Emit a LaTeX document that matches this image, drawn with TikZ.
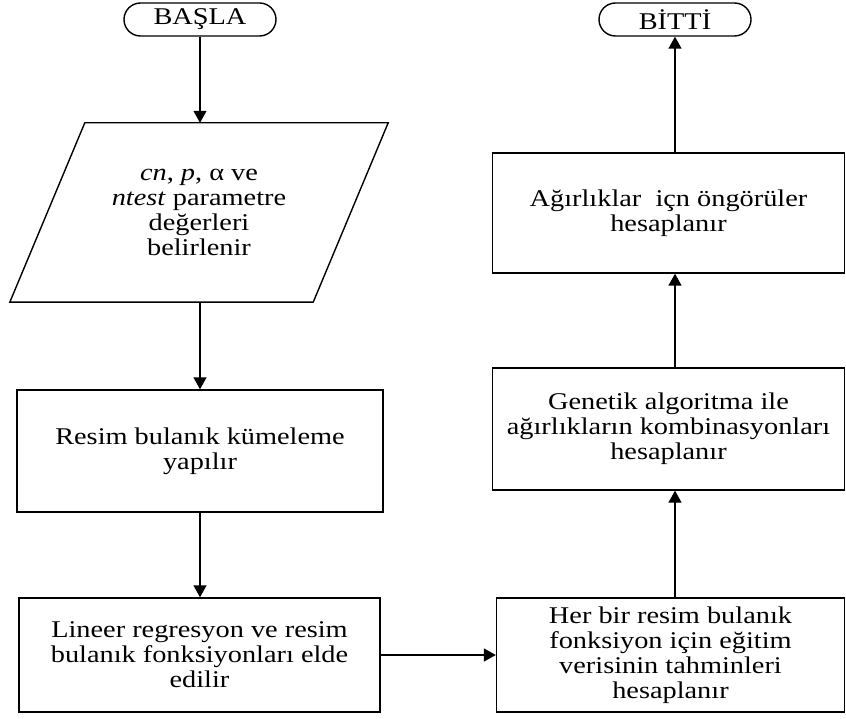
\documentclass[tikz,border=0pt]{standalone}
\usepackage{fontspec}
\setmainfont{Liberation Serif}[FakeStretch=1.18]
\usetikzlibrary{arrows.meta}
\tikzset{
  every node/.style={font=\fontsize{24}{25}\selectfont, align=center, inner sep=0pt},
  box/.style={draw, line width=1.4pt},
  term/.style={draw, line width=1.4pt, rounded corners=16.5pt, minimum width=152pt, minimum height=33pt},
  arr/.style={line width=1.4pt, -{Triangle[length=12pt,width=13pt]}},
}
\begin{document}
\begin{tikzpicture}[x=1pt,y=-1pt]
\useasboundingbox (0,0) rectangle (846,719);
\node[term] (start) at (200,19.5) {BAŞLA};
\node[term] (end) at (675,19.5) {BİTTİ};
\node[minimum width=303pt, minimum height=179pt] (para) at (199,212.5)
  {\textit{cn}, \textit{p}, α ve\\ \textit{ntest} parametre\\ değerleri\\ belirlenir};
\draw[line width=1.4pt] ([xshift=37.5pt]para.north west) -- ([xshift=37.5pt]para.north east)
  -- ([xshift=-37.5pt]para.south east) -- ([xshift=-37.5pt]para.south west) -- cycle;
\node[box, minimum width=366pt, minimum height=122pt] (r1) at (200,451)
  {Resim bulanık kümeleme\\ yapılır};
\node[box, minimum width=361pt, minimum height=114pt] (r2) at (199.5,655)
  {Lineer regresyon ve resim\\ bulanık fonksiyonları elde\\ edilir};
\node[box, minimum width=348pt, minimum height=114pt] (r3) at (670.5,655)
  {Her bir resim bulanık\\ fonksiyon için eğitim\\ verisinin tahminleri\\ hesaplanır};
\node[box, minimum width=352pt, minimum height=122pt] (r4) at (668.5,429)
  {Genetik algoritma ile\\ ağırlıkların kombinasyonları\\ hesaplanır};
\node[box, minimum width=352pt, minimum height=120pt] (r5) at (668.5,213)
  {Ağırlıklar\ \ içn öngörüler\\ hesaplanır};
\draw[arr] (start.south) -- (start.south |- para.north);
\draw[arr] (para.south -| start.south) -- (r1.north -| start.south);
\draw[arr] (r1.south -| start.south) -- (r2.north -| start.south);
\draw[arr] (r2.east) -- (r3.west);
\draw[arr] (r3.north -| end.south) -- (r4.south -| end.south);
\draw[arr] (r4.north -| end.south) -- (r5.south -| end.south);
\draw[arr] (r5.north -| end.south) -- (end.south);
\end{tikzpicture}
\end{document}
